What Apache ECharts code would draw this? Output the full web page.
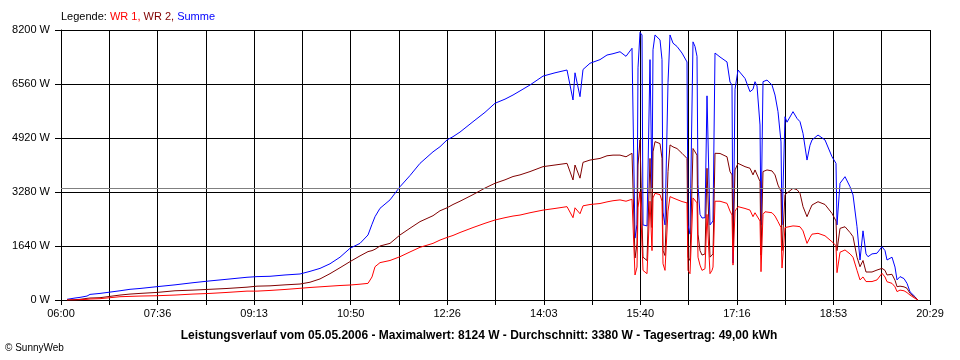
<!DOCTYPE html>
<html><head><meta charset="utf-8">
<script src="https://cdn.jsdelivr.net/npm/echarts@6/dist/echarts.min.js"></script>
<style>html,body{margin:0;padding:0;background:#fff}#c{width:960px;height:360px}</style>
</head><body><div id="c"></div>
<script>
// minutes after 06:00
const minutes = [
  6,14,19,26,29,39,49,59,69,79,
  96,114,132,149,166,186,196,209,224,239,
  249,259,269,279,289,299,307,311,314,319,
  329,339,349,359,372,379,386,392,399,412,
  424,434,444,452,459,469,482,494,506,512,
  514,519,522,529,539,546,552,559,565,571,
  574,576,577,579,581,582,586,589,591,592,
  594,599,601,602,604,607,609,612,616,621,
  626,627,629,632,634,636,637,639,641,644,
  646,649,651,652,654,659,666,669,671,672,
  674,677,684,689,692,694,696,699,700,702,
  704,706,711,714,717,720,721,724,726,732,
  736,739,742,746,749,751,757,764,771,775,
  776,779,784,789,792,796,799,802,805,807,
  811,816,821,824,826,831,834,836,839,843,
  846,849,851,854,856,857
];
const wr1 = [
  0,0,10,20,30,40,70,100,110,120,
  130,150,180,200,230,270,270,290,320,355,
  380,400,420,440,455,480,505,700,1010,1135,
  1200,1315,1460,1600,1720,1820,1900,1960,2050,2200,
  2330,2430,2500,2550,2580,2650,2730,2780,2835,2500,
  2800,2620,2860,2900,2930,2980,3015,3040,3000,3060,
  760,1000,2800,3290,3250,900,800,3000,1500,3100,
  3240,3200,3000,1100,900,2700,3140,3100,3050,2990,
  2950,900,800,3100,3050,2950,1300,1060,900,950,
  2600,800,900,1000,3000,3000,2935,2700,2580,1060,
  2700,2835,2780,2730,2530,2650,2630,2400,860,2600,
  2680,2680,2650,2550,2380,2200,970,2200,2175,2250,
  2240,2225,2100,1720,1900,2000,2025,1950,1770,1650,
  830,1450,1520,1400,1300,900,610,700,560,555,
  560,610,810,700,555,505,400,255,300,280,
  225,150,100,50,20,0
];
const wr2 = [
  0,10,20,50,60,70,110,150,180,200,
  230,280,300,325,350,390,420,430,460,485,
  540,640,800,980,1165,1340,1470,1500,1540,1640,
  1720,1975,2180,2380,2560,2710,2800,2900,3000,3200,
  3400,3545,3650,3750,3800,3900,4050,4100,4150,3645,
  4100,3700,4180,4250,4300,4380,4400,4400,4350,4455,
  1275,1700,4100,4860,4820,1300,1200,4300,2200,4500,
  4810,4750,4300,1500,1350,3900,4710,4650,4600,4455,
  4300,1300,1200,4600,4550,4400,2000,1500,1365,1400,
  4000,1300,1250,1400,4455,4450,4350,3900,3800,1620,
  3950,4150,4050,4000,3800,3950,3900,3600,1365,3900,
  3950,3950,3920,3800,3490,3300,1500,3200,3190,3390,
  3350,3240,2835,2530,2750,2885,2985,2900,2630,2400,
  1500,2175,2225,2050,1925,1300,1010,1200,850,810,
  850,910,960,900,760,780,600,405,420,400,
  355,200,150,80,20,0
];
const summe = [
  20,60,80,120,170,200,240,280,325,350,
  405,460,525,580,630,690,710,720,760,790,
  870,960,1100,1300,1570,1720,1975,2300,2530,2785,
  3040,3440,3780,4150,4500,4655,4860,4960,5100,5415,
  5700,5975,6100,6225,6350,6530,6800,6900,6985,6075,
  6900,6175,7000,7190,7300,7440,7480,7540,7400,7645,
  1880,2300,7050,8124,8050,2280,2250,7300,3380,7600,
  8050,7900,7300,2670,2280,6600,8050,7800,7700,7500,
  7230,2280,2000,7840,7700,7400,3500,2600,2490,2500,
  6200,2280,2280,2400,7500,7380,7230,6620,6530,1125,
  6400,6985,6730,6325,6400,6630,6500,5315,2280,6630,
  6680,6680,6530,6225,5720,4800,2280,5565,5400,5720,
  5515,5415,5060,4250,4700,4860,5010,4860,4350,4150,
  2280,3545,3745,3440,3190,2225,1215,2100,1400,1315,
  1400,1420,1620,1500,1215,1300,1000,610,710,650,
  505,250,200,100,20,0
];
const tickLabels = ["06:00","07:36","09:13","10:50","12:26","14:03","15:40","17:16","18:53","20:29"];
const yMax = 8200, yStep = 1640;
const average = 3380;
const spanMinutes = 869;   // 06:00 .. 20:29
const divisions = 18;      // vertical grid lines

const toX = m => m * divisions / spanMinutes;
const pts = arr => minutes.map((m, i) => [toX(m), arr[i]]);
const FONT = "'Liberation Sans', Arial, sans-serif";

const chart = echarts.init(document.getElementById('c'), null, {renderer: 'canvas'});
chart.setOption({
  animation: false,
  backgroundColor: '#fff',
  title: [
    {
      left: 61, top: 11, padding: 0,
      text: '{k|Legende: }{a|WR 1, }{b|WR 2, }{c|Summe}',
      textStyle: {
        fontFamily: FONT, fontSize: 11, fontWeight: 'normal',
        rich: {
          k: {color: '#000', fontFamily: FONT, fontSize: 11},
          a: {color: '#ff0000', fontFamily: FONT, fontSize: 11},
          b: {color: '#800000', fontFamily: FONT, fontSize: 11},
          c: {color: '#0000ff', fontFamily: FONT, fontSize: 11}
        }
      }
    },
    {
      left: 479, top: 330, padding: 0, textAlign: 'center',
      text: 'Leistungsverlauf vom 05.05.2006 - Maximalwert: 8124 W - Durchschnitt: 3380 W - Tagesertrag: 49,00 kWh',
      textStyle: {fontFamily: FONT, fontSize: 12, fontWeight: 'bold', color: '#000'}
    },
    {
      left: 5, top: 343, padding: 0,
      text: '© SunnyWeb',
      textStyle: {fontFamily: FONT, fontSize: 10, fontWeight: 'normal', color: '#000'}
    }
  ],
  grid: {left: 61, right: 30, top: 30, bottom: 60, containLabel: false},
  xAxis: {
    type: 'value', min: 0, max: divisions, interval: 1,
    axisLine: {show: true, lineStyle: {color: '#000', width: 1}},
    axisTick: {show: true, length: 5, lineStyle: {color: '#000'}},
    splitLine: {show: true, lineStyle: {color: '#000', width: 1}},
    axisLabel: {
      margin: 8, color: '#000', fontFamily: FONT, fontSize: 11,
      showMinLabel: true, showMaxLabel: true, hideOverlap: false,
      formatter: v => { const k = Math.round(v); return k % 2 === 0 ? tickLabels[k / 2] : ''; }
    }
  },
  yAxis: {
    type: 'value', min: 0, max: yMax, interval: yStep,
    axisLine: {show: true, lineStyle: {color: '#000', width: 1}},
    axisTick: {show: true, length: 6, lineStyle: {color: '#000'}},
    splitLine: {show: true, lineStyle: {color: '#000', width: 1}},
    axisLabel: {margin: 11, color: '#000', fontFamily: FONT, fontSize: 11, formatter: v => v + ' W'}
  },
  series: [
    {name: 'Summe', type: 'line', data: pts(summe), showSymbol: false, symbol: 'none',
     lineStyle: {color: '#0000ff', width: 1}, itemStyle: {color: '#0000ff'}},
    {name: 'WR 2', type: 'line', data: pts(wr2), showSymbol: false, symbol: 'none',
     lineStyle: {color: '#800000', width: 1}, itemStyle: {color: '#800000'}},
    {name: 'WR 1', type: 'line', data: pts(wr1), showSymbol: false, symbol: 'none',
     lineStyle: {color: '#ff0000', width: 1}, itemStyle: {color: '#ff0000'},
     markLine: {silent: true, symbol: 'none', label: {show: false},
       lineStyle: {color: '#808080', type: 'solid', width: 1},
       data: [{yAxis: average}]}}
  ]
});
</script>
</body></html>
